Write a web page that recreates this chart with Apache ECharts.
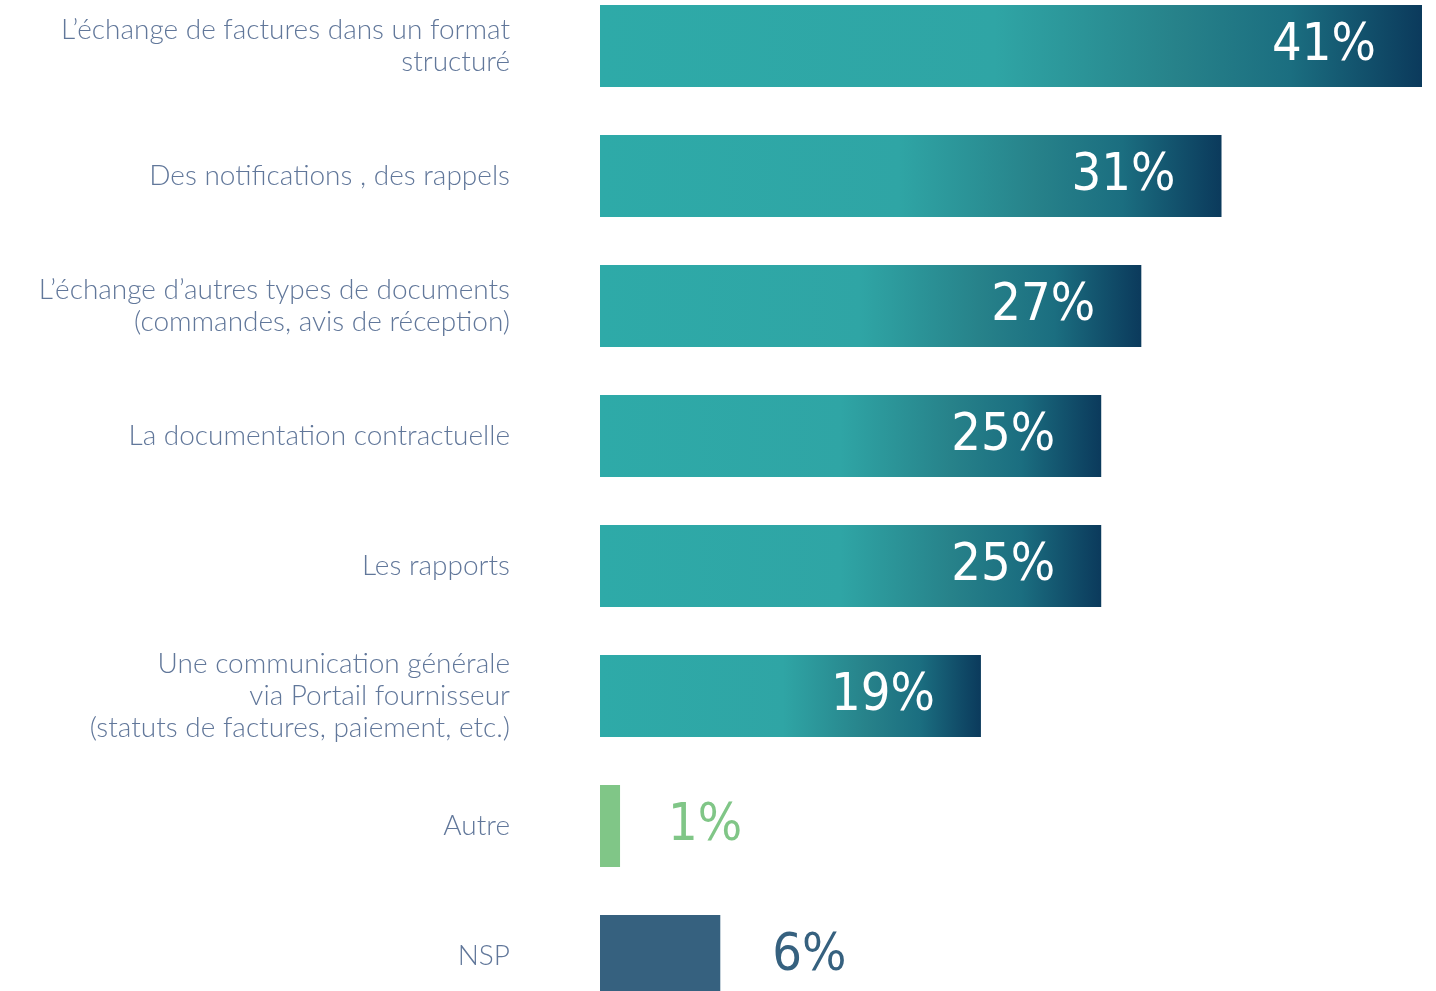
<!DOCTYPE html>
<html>
<head>
<meta charset="utf-8">
<script src="https://cdn.jsdelivr.net/npm/echarts@6/dist/echarts.min.js"></script>
<style>
  html, body { margin: 0; padding: 0; background: #fff; }
  #chart { width: 1436px; height: 991px; }
</style>
</head>
<body>
<div id="chart"></div>
<script>
// libellés (haut -> bas)
const categories = [
  "L’échange de factures dans un format\nstructuré",
  "Des notifications , des rappels",
  "L’échange d’autres types de documents\n(commandes, avis de réception)",
  "La documentation contractuelle",
  "Les rapports",
  "Une communication générale\nvia Portail fournisseur\n(statuts de factures, paiement, etc.)",
  "Autre",
  "NSP"
]
const values = [41, 31, 27, 25, 25, 19, 1, 6]
// type de barre : gradient = dégradé, sinon couleur pleine
const barKinds = ['gradient', 'gradient', 'gradient', 'gradient', 'gradient', 'gradient', 'green', 'navy']

const chart = echarts.init(document.getElementById('chart'))

const gradientColor = new echarts.graphic.LinearGradient(0, 0, 1, 0, [
  { offset: 0, color: '#2eaaa8' },
  { offset: 0.48, color: '#2fa5a5' },
  { offset: 0.7, color: '#27828a' },
  { offset: 0.84, color: '#1b6e80' },
  { offset: 1, color: '#0b3a5c' }
])
const valueFont = "'DejaVu Sans Condensed', 'Liberation Sans Narrow', sans-serif"

let seriesData = values.map((v, i) => {
  let kind = barKinds[i]
  let item = { value: v }
  if (kind === 'gradient') {
    item.itemStyle = { color: gradientColor }
    item.label = { position: 'insideRight', distance: 46, color: '#ffffff' }
  } else if (kind === 'green') {
    item.itemStyle = { color: '#80c687' }
    item.label = { position: 'right', distance: 48, color: '#80c687' }
  } else {
    item.itemStyle = { color: '#36617f' }
    item.label = { position: 'right', distance: 52, color: '#36617f' }
  }
  return item
})

let option = {
  animation: false,
  grid: {
    left: 600,
    top: -19,
    height: 1040,
    width: 822,
    outerBoundsMode: 'none'
  },
  xAxis: {
    type: 'value',
    min: 0,
    max: 41,
    show: false
  },
  yAxis: {
    type: 'category',
    inverse: true,
    data: categories,
    axisLine: { show: false },
    axisTick: { show: false },
    axisLabel: {
      margin: 90,
      color: '#61779a',
      fontSize: 28,
      fontWeight: 300,
      lineHeight: 32,
      fontFamily: "Lato, 'Open Sans', sans-serif",
      align: 'right'
    }
  },
  series: [
    {
      type: 'bar',
      barWidth: 82,
      data: seriesData,
      label: {
        show: true,
        fontFamily: valueFont,
        fontSize: 52,
        fontWeight: 300,
        formatter: '{c}%'
      }
    }
  ]
}
chart.setOption(option)
window.addEventListener('resize', () => { chart.resize() })
</script>
</body>
</html>
